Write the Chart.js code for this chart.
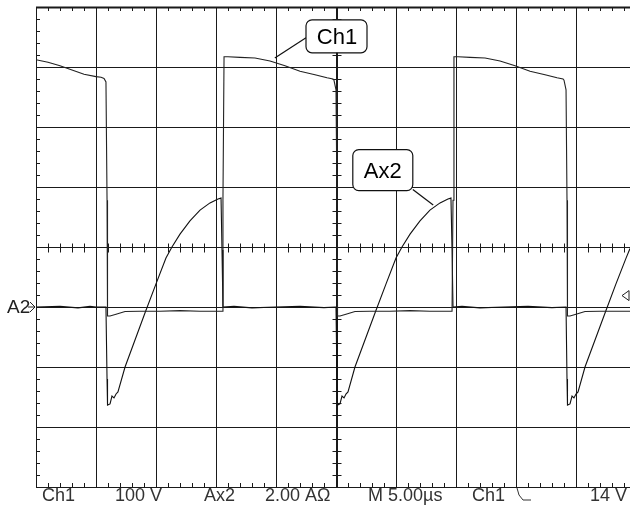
<!DOCTYPE html>
<html>
<head>
<meta charset="utf-8">
<script src="https://cdn.jsdelivr.net/npm/chart.js@4"></script>
<style>
  body { margin: 0; background: #fff; }
  canvas { display: block; }
</style>
</head>
<body>
<canvas id="scope" width="630" height="506"></canvas>
<script>
// Ch1 voltage trace (time in us, volts), 100 V/div
const ch1Time = [0, 1, 2, 3, 4, 5, 5.42, 5.67, 5.83, 5.92, 5.96, 6.17, 6.67, 7.42, 8.67, 10.33, 12, 13.67, 15.5,
  15.58, 15.67, 16, 17, 18.25, 19.5, 20.75, 22, 23.25, 24.25, 24.75, 24.83, 25, 25.08, 25.13, 25.33, 25.83, 26.58,
  27.83, 29.5, 31.17, 32.83, 34.67, 34.75, 34.83, 35.17, 36.17, 37.42, 38.67, 39.92, 41.17, 42.42, 43.42, 43.92,
  44, 44.17, 44.25, 44.29, 44.5, 45, 45.75, 47, 49.5];
const ch1Volts = [412, 408, 402, 395, 388, 384, 383, 381, 375, 178, -15, -15, -12, -7.5, -7, -7, -6, -7, -7,
  178, 417, 417, 416, 415, 410, 402, 393, 387, 382, 380, 378, 362, 178, -15, -15, -12, -7.5,
  -7, -7, -6, -7, -7, 178, 417, 417, 416, 415, 410, 402, 393, 387, 382, 380,
  378, 362, 178, -15, -15, -12, -7.5, -7, -7];

// Ax2 current trace (time in us, amps), 2.00 A/div
const ax2Time = [0, 2, 3.5, 4.5, 5, 5.83, 5.92, 5.96, 6.17, 6.33, 6.5, 6.67, 6.83, 7.42, 9.08, 10, 10.83, 11.33,
  12, 12.83, 13.67, 14.5, 15.17, 15.42, 15.5, 15.58, 16.5, 18, 20, 22, 24, 25, 25.08, 25.13, 25.33, 25.5, 25.67,
  25.83, 26, 26.58, 28.25, 29.17, 30, 30.5, 31.17, 32, 32.83, 33.67, 34.33, 34.58, 34.67, 34.75, 35.5, 37, 39,
  41, 43, 44.17, 44.25, 44.29, 44.5, 44.67, 44.83, 45, 45.17, 45.75, 47.42, 48.33, 49.17, 49.5];
const ax2Amps = [0, 0.02, -0.03, 0.02, 0, 0, -2.4, -3.27, -3.23, -2.97, -3.03, -2.9, -2.83, -2, -0.2, 0.77, 1.63, 2,
  2.43, 2.87, 3.23, 3.47, 3.6, 3.63, 1.9, 0, 0.02, -0.03, 0, 0.02, -0.02, 0, -2.4, -3.27, -3.23, -2.97, -3.03,
  -2.9, -2.83, -2, -0.2, 0.77, 1.63, 2, 2.43, 2.87, 3.23, 3.47, 3.6, 3.63, 1.9, 0, 0.02, -0.03, 0,
  0.02, -0.02, 0, -2.4, -3.27, -3.23, -2.97, -3.03, -2.9, -2.83, -2, -0.2, 0.77, 1.63, 1.95];

// readout line under the graticule
const readoutText = ['Ch1', '100 V', 'Ax2', '2.00 A\u03A9', 'M 5.00\u00B5s', 'Ch1', '14 V'];
const readoutX = [42, 115, 204, 265, 368, 472, 590];

const triggerLevel = 14; // volts on Ch1
const ax2Ref = 0; // A2 ground marker

function toPoints(xs, ys) {
  return xs.map((x, i) => ({ x: x, y: ys[i] }));
}

// graticule: major divisions, minor ticks and centre cross
const graticule = {
  id: 'graticule',
  beforeDatasetsDraw(chart) {
    const ctx = chart.ctx;
    const xs = chart.scales.x;
    const ys = chart.scales.y;
    const area = chart.chartArea;
    const px = (v) => Math.round(xs.getPixelForValue(v)) + 0.5;
    const py = (v) => Math.round(ys.getPixelForValue(v)) + 0.5;
    ctx.save();
    ctx.strokeStyle = '#1a1a1a';
    ctx.lineWidth = 1;
    ctx.beginPath();
    for (let t = 0; t <= 45; t += 5) {
      ctx.moveTo(px(t), area.top);
      ctx.lineTo(px(t), area.bottom);
    }
    for (let v = -300; v <= 500; v += 100) {
      ctx.moveTo(area.left, py(v));
      ctx.lineTo(area.right, py(v));
    }
    // minor ticks on the edges and on the centre cross
    for (let t = 0; t <= 50; t += 1) {
      if (t % 5 === 0) continue;
      ctx.moveTo(px(t), area.top);
      ctx.lineTo(px(t), area.top + 4);
      ctx.moveTo(px(t), area.bottom);
      ctx.lineTo(px(t), area.bottom - 4);
      ctx.moveTo(px(t), py(100) - 4);
      ctx.lineTo(px(t), py(100) + 5);
    }
    for (let v = -300; v <= 500; v += 20) {
      if (v % 100 === 0) continue;
      ctx.moveTo(area.left, py(v));
      ctx.lineTo(area.left + 4, py(v));
      ctx.moveTo(px(25) - 4, py(v));
      ctx.lineTo(px(25) + 5, py(v));
    }
    ctx.stroke();
    // heavier frame top and centre vertical
    ctx.lineWidth = 2;
    ctx.beginPath();
    ctx.moveTo(area.left, area.top + 0.5);
    ctx.lineTo(area.right, area.top + 0.5);
    ctx.moveTo(px(25) + 0.5, area.top);
    ctx.lineTo(px(25) + 0.5, area.bottom);
    ctx.stroke();
    ctx.restore();
  },
  afterDatasetsDraw(chart) {
    const ctx = chart.ctx;
    const xs = chart.scales.x;
    const ys = chart.scales.y;
    const ya = chart.scales.y2;
    const area = chart.chartArea;
    ctx.save();
    ctx.strokeStyle = '#111';
    ctx.fillStyle = '#fff';
    ctx.lineWidth = 1.2;

    // Ch1 callout
    const c1x = xs.getPixelForValue(25);
    const c1y = ys.getPixelForValue(452);
    ctx.beginPath();
    ctx.moveTo(c1x - 30, c1y + 2);
    ctx.lineTo(xs.getPixelForValue(19.9), ys.getPixelForValue(415));
    ctx.stroke();
    ctx.beginPath();
    ctx.roundRect(c1x - 30, c1y - 16, 61, 33, 6);
    ctx.fill();
    ctx.stroke();

    // Ax2 callout
    const a2x = xs.getPixelForValue(28.9);
    const a2y = ya.getPixelForValue(4.58);
    ctx.beginPath();
    ctx.moveTo(a2x + 30, a2y + 20);
    ctx.lineTo(xs.getPixelForValue(33.1), ya.getPixelForValue(3.4));
    ctx.stroke();
    ctx.beginPath();
    ctx.roundRect(a2x - 30, a2y - 20, 60, 41, 6);
    ctx.fill();
    ctx.stroke();

    ctx.fillStyle = '#000';
    ctx.font = '22px "Liberation Sans", Arial, sans-serif';
    ctx.textAlign = 'center';
    ctx.textBaseline = 'middle';
    ctx.fillText('Ch1', c1x + 1, c1y + 2);
    ctx.fillText('Ax2', a2x, a2y + 2);

    // A2 ground marker at the left
    const gy = ya.getPixelForValue(ax2Ref);
    ctx.font = '19px "Liberation Sans", Arial, sans-serif';
    ctx.textAlign = 'left';
    ctx.fillStyle = '#222';
    ctx.fillText('A2', 7, gy + 1);
    ctx.strokeStyle = '#222';
    ctx.lineWidth = 1;
    ctx.beginPath();
    ctx.moveTo(28, gy);
    ctx.lineTo(35, gy);
    ctx.moveTo(30, gy - 5);
    ctx.lineTo(35, gy);
    ctx.lineTo(30, gy + 5);
    ctx.stroke();

    // trigger level marker at the right
    const ty = ys.getPixelForValue(triggerLevel) - 3;
    ctx.beginPath();
    ctx.moveTo(area.right - 8, ty);
    ctx.lineTo(area.right - 1, ty - 5);
    ctx.lineTo(area.right - 1, ty + 5);
    ctx.closePath();
    ctx.stroke();

    // readout line
    ctx.fillStyle = '#333';
    ctx.font = '18px "Liberation Sans", Arial, sans-serif';
    ctx.textBaseline = 'alphabetic';
    readoutText.forEach((txt, i) => ctx.fillText(txt, readoutX[i], 501));
    // falling edge symbol
    ctx.strokeStyle = '#333';
    ctx.beginPath();
    ctx.moveTo(517, 488);
    ctx.lineTo(519, 495);
    ctx.lineTo(523, 500);
    ctx.lineTo(531, 500);
    ctx.stroke();
    ctx.restore();
  },
};

new Chart(document.getElementById('scope'), {
  type: 'line',
  data: {
    datasets: [
      {
        label: 'Ch1',
        data: toPoints(ch1Time, ch1Volts),
        borderColor: '#222',
        borderWidth: 1.1,
        yAxisID: 'y',
      },
      {
        label: 'Ax2',
        data: toPoints(ax2Time, ax2Amps),
        borderColor: '#111',
        borderWidth: 1.1,
        yAxisID: 'y2',
      },
    ],
  },
  options: {
    responsive: false,
    animation: false,
    devicePixelRatio: 1,
    layout: { padding: { left: 36, top: 7, right: 0, bottom: 19 } },
    elements: { point: { radius: 0 }, line: { tension: 0 } },
    scales: {
      x: { type: 'linear', min: 0, max: 49.5, display: false },
      y: { type: 'linear', min: -300, max: 500, display: false },
      y2: { type: 'linear', min: -6, max: 10, display: false },
    },
    plugins: { legend: { display: false }, tooltip: { enabled: false } },
  },
  plugins: [graticule],
});
</script>
</body>
</html>
